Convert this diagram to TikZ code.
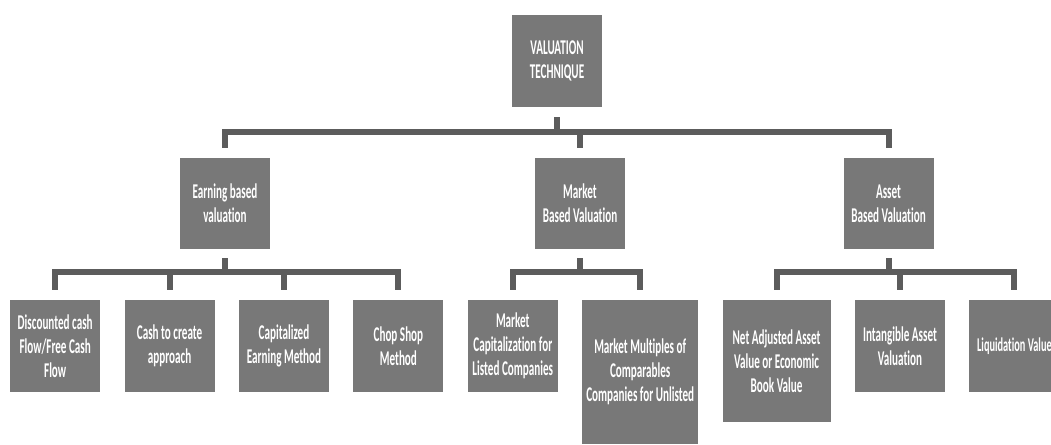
\documentclass[tikz,border=0pt]{standalone}
\usepackage{fontspec}
\setmainfont{Carlito}[FakeStretch=0.53,Ligatures=NoCommon]
\usetikzlibrary{positioning}
\definecolor{boxgrey}{RGB}{120,120,120}
\definecolor{bargrey}{RGB}{92,92,92}
\tikzset{
  box/.style={fill=boxgrey,text=white,inner sep=0pt,minimum width=90pt,minimum height=92pt,align=center,font=\fontsize{21}{24}\selectfont\bfseries},
  bracket/.style={draw=bargrey,line width=6pt},
}

\begin{document}
\begin{tikzpicture}[x=1pt,y=1pt,node distance=24pt]
\useasboundingbox (0,0) rectangle (1051,444);
% root
\node[box] (tech) at (557,383) {VALUATION\\TECHNIQUE};
% second level
\node[box,minimum height=91pt] (earn) at (225,240.5) {Earning based\\valuation};
\node[box,minimum height=91pt] (market) at (580,240.5) {Market\\Based Valuation};
\node[box,minimum height=91pt] (asset) at (888.5,240.5) {Asset\\Based Valuation};
% third level, one row with tops aligned
\node[box,anchor=north west] (dcf) at (10,144) {Discounted cash\\Flow/Free Cash\\Flow};
\node[box,right=of dcf.north east,anchor=north west] (cash) {Cash to create\\approach};
\node[box,right=of cash.north east,anchor=north west] (capit) {Capitalized\\Earning Method};
\node[box,right=of capit.north east,anchor=north west] (chop) {Chop Shop\\Method};
\node[box,right=of chop.north east,anchor=north west] (mcap) {Market\\Capitalization for\\Listed Companies};
\node[box,right=of mcap.north east,anchor=north west,minimum width=116pt,minimum height=144pt] (mmult) {Market Multiples of\\Comparables\\Companies for Unlisted};
\node[box,right=of mmult.north east,anchor=north west,minimum width=108pt,minimum height=122pt] (netadj) {Net Adjusted Asset\\Value or Economic\\Book Value};
\node[box,right=of netadj.north east,anchor=north west] (intang) {Intangible Asset\\Valuation};
\node[box,right=of intang.north east,anchor=north west,font=\fontsize{19.5}{24}\selectfont\bfseries] (liquid) {Liquidation Value};
% brackets
\foreach \c in {earn,market,asset}
  \draw[bracket] ([yshift=-10pt]tech.south) -- ++(0,-15) -| ([yshift=10pt]\c.north);
\foreach \c in {dcf,cash,capit,chop}
  \draw[bracket] ([yshift=-9pt]earn.south) -- ++(0,-14) -| ([yshift=10pt]\c.north);
\foreach \c in {mcap,mmult}
  \draw[bracket] ([yshift=-9pt]market.south) -- ++(0,-14) -| ([yshift=10pt]\c.north);
\foreach \c in {netadj,intang,liquid}
  \draw[bracket] ([yshift=-9pt]asset.south) -- ++(0,-14) -| ([yshift=10pt]\c.north);
\end{tikzpicture}
\end{document}
